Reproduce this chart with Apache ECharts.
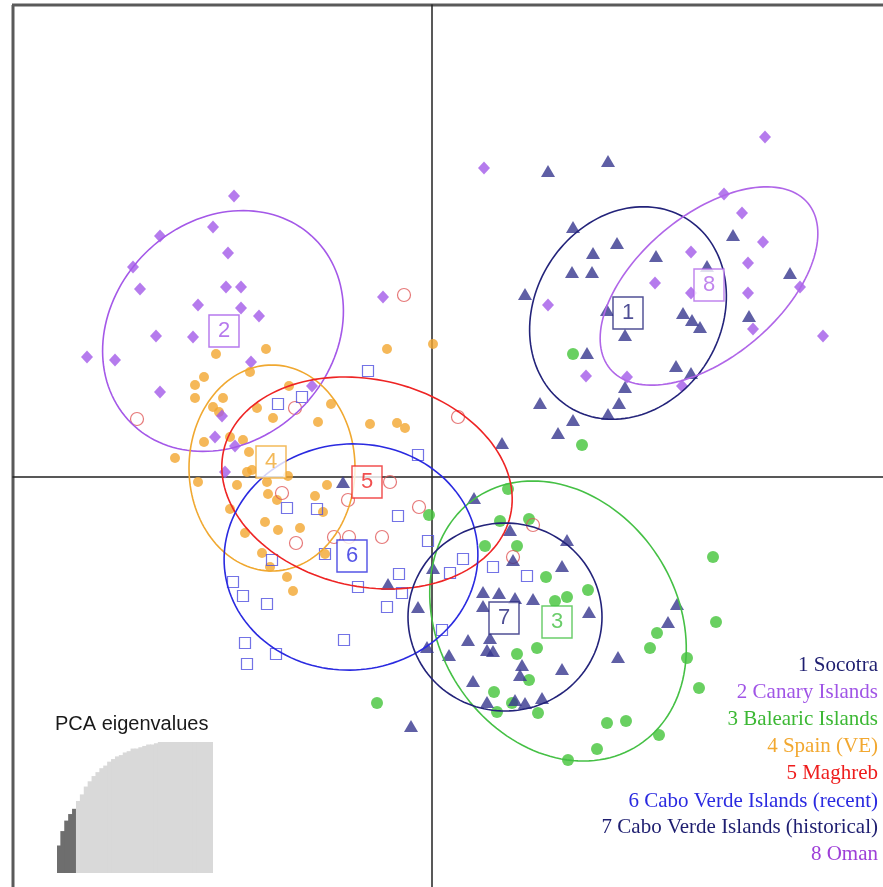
<!DOCTYPE html>
<html><head><meta charset="utf-8">
<script src="https://cdn.jsdelivr.net/npm/echarts@6/dist/echarts.min.js"></script>
<style>html,body{margin:0;padding:0;background:#fff;overflow:hidden}#c{width:883px;height:887px}</style>
</head><body><div id="c"></div><script>
// ---- data (PC1, PC2) ----
const socotra = [[1.16,3.06],[1.76,3.16],[1.41,2.50],[1.85,2.34],[1.61,2.24],[2.24,2.21],[1.40,2.05],[1.60,2.05],[2.75,2.11],[3.01,2.42],[0.93,1.83],[1.75,1.67],[1.93,1.42],[2.51,1.64],[2.60,1.57],[2.68,1.50],[3.17,1.61],[3.58,2.04],[1.55,1.24],[2.44,1.11],[2.59,1.04],[1.93,0.90],[1.08,0.74],[1.87,0.74],[1.76,0.63],[1.41,0.57],[1.26,0.44],[0.70,0.34]];
const canary = [[-1.98,2.81],[-2.19,2.50],[-2.72,2.41],[-2.04,2.24],[-2.99,2.10],[-2.92,1.88],[-2.06,1.90],[-1.91,1.90],[-2.34,1.72],[-1.91,1.69],[-1.73,1.61],[-2.76,1.41],[-2.39,1.40],[-3.45,1.20],[-3.17,1.17],[-1.81,1.15],[-2.72,0.85],[-0.49,1.80],[-1.20,0.91],[-2.10,0.61],[-2.17,0.40],[-1.97,0.31],[-2.07,0.05]];
const balearic = [[1.41,1.23],[1.50,0.32],[0.76,-0.12],[-0.03,-0.38],[0.68,-0.44],[0.97,-0.42],[0.53,-0.69],[0.85,-0.69],[1.14,-1.00],[1.56,-1.13],[1.35,-1.20],[1.23,-1.24],[2.81,-0.80],[2.84,-1.45],[2.25,-1.56],[2.18,-1.71],[1.05,-1.71],[0.85,-1.77],[2.55,-1.81],[0.97,-2.03],[0.62,-2.15],[2.67,-2.11],[0.80,-2.26],[0.65,-2.35],[1.06,-2.36],[1.75,-2.46],[1.94,-2.44],[2.27,-2.58],[1.65,-2.72],[1.36,-2.83],[-0.55,-2.26]];
const spain = [[-1.66,1.28],[-2.16,1.23],[-0.45,1.28],[0.01,1.33],[-1.82,1.05],[-2.28,1.00],[-2.37,0.92],[-1.43,0.91],[-2.37,0.79],[-2.09,0.79],[-2.19,0.70],[-2.13,0.65],[-1.75,0.69],[-1.59,0.59],[-1.01,0.73],[-1.14,0.55],[-0.62,0.53],[-0.35,0.54],[-0.27,0.49],[-2.28,0.35],[-2.02,0.40],[-1.89,0.37],[-2.57,0.19],[-1.83,0.25],[-1.85,0.05],[-1.80,0.07],[-2.34,-0.05],[-1.95,-0.08],[-1.65,-0.05],[-1.44,0.01],[-1.05,-0.08],[-1.64,-0.17],[-1.55,-0.23],[-1.17,-0.19],[-1.09,-0.35],[-2.02,-0.32],[-1.67,-0.45],[-1.54,-0.53],[-1.32,-0.51],[-1.87,-0.56],[-1.70,-0.76],[-1.62,-0.90],[-1.45,-1.00],[-1.39,-1.14],[-1.07,-0.77]];
const maghreb = [[-0.28,1.82],[-2.95,0.58],[-1.37,0.69],[0.26,0.60],[-1.50,-0.16],[-0.42,-0.05],[-0.84,-0.23],[-0.13,-0.30],[-1.36,-0.66],[-0.98,-0.60],[-0.83,-0.60],[-0.50,-0.60],[1.01,-0.48],[0.81,-0.80]];
const cvRecent = [[-0.64,1.06],[-1.54,0.73],[-1.30,0.80],[-0.14,0.22],[-1.45,-0.31],[-1.15,-0.32],[-0.34,-0.39],[-0.04,-0.64],[-1.07,-0.77],[-1.60,-0.83],[-1.99,-1.05],[-1.89,-1.19],[-1.65,-1.27],[-0.74,-1.10],[-0.33,-0.97],[-0.30,-1.16],[-0.45,-1.30],[0.18,-0.96],[0.31,-0.82],[0.61,-0.90],[0.95,-0.99],[0.10,-1.53],[-0.88,-1.63],[-1.87,-1.66],[-1.56,-1.77],[-1.85,-1.87]];
const cvHist = [[-0.89,-0.05],[0.42,-0.21],[0.78,-0.53],[1.35,-0.63],[0.81,-0.83],[1.30,-0.89],[0.01,-0.91],[-0.44,-1.07],[0.51,-1.15],[0.67,-1.16],[0.83,-1.21],[1.01,-1.22],[-0.14,-1.30],[0.51,-1.29],[1.57,-1.35],[2.45,-1.27],[2.36,-1.45],[0.36,-1.63],[0.58,-1.61],[0.55,-1.73],[0.61,-1.74],[-0.05,-1.70],[0.17,-1.78],[1.86,-1.80],[0.90,-1.88],[0.88,-1.98],[1.30,-1.92],[0.41,-2.04],[0.55,-2.25],[0.83,-2.23],[0.93,-2.26],[1.10,-2.21],[-0.21,-2.49]];
const oman = [[0.52,3.09],[3.33,3.40],[2.92,2.83],[3.10,2.64],[3.31,2.35],[2.59,2.25],[3.16,2.14],[2.23,1.94],[2.59,1.84],[3.16,1.84],[3.68,1.90],[1.16,1.72],[3.21,1.48],[3.91,1.41],[1.54,1.01],[1.95,1.00],[2.50,0.91]];
const groupNames = ['1 Socotra','2 Canary Islands','3 Balearic Islands','4 Spain (VE)','5 Maghreb','6 Cabo Verde Islands (recent)','7 Cabo Verde Islands (historical)','8 Oman'];
const groupCodes = ['1','2','3','4','5','6','7','8'];
// group centroids (label positions)
const centroids = [[1.96,1.64],[-2.08,1.46],[1.25,-1.45],[-1.61,0.15],[-0.65,-0.05],[-0.80,-0.79],[0.72,-1.41],[2.77,1.92]];
// inertia ellipses: centre x, centre y, semi-axis a, semi-axis b, angle of a (deg)
const ellCx = [1.96,-2.09,1.26,-1.60,-0.65,-0.81,0.73,2.77];
const ellCy = [1.64,1.46,-1.44,0.09,-0.06,-0.80,-1.40,1.91];
const ellA = [1.11,1.30,1.48,1.03,1.47,1.27,0.97,1.29];
const ellB = [0.93,1.10,1.19,0.83,1.035,1.13,0.94,0.71];
const ellAngle = [58,45,-57,90,-12.7,5,0,40];
// eigenvalue inset (relative heights, %)
const eigen = [21,32,40,45,49,55,60,66,70,74,77,80,82,85,87,89,90,92,93,95,95,96,97,98,98,99,100,100,100,100,100,100,100,100,100,100,100,100,100,100];
const eigenKept = 5;

// ---- styles ----
const ellColors = ['#23237a','#a458e8','#45c045','#f0a830','#ee2424','#2a2ae0','#23237a','#b066e8'];
const textColors = ['#1e1e70','#a055e6','#3cb834','#f2a830','#ee1c1c','#2a2ae0','#1e1e70','#9e3fd8'];

const chart = echarts.init(document.getElementById('c'), null, {renderer:'canvas'});
function pts(arr, name, symbol, size, style, z){
  return {type:'scatter', name, data: arr, symbol, symbolSize:size, itemStyle: style, z: z||2, silent:true, xAxisIndex:0, yAxisIndex:0};
}
const series = [
  pts(spain,'4','circle',10,{color:'#f2a630'}),
  pts(canary,'2','diamond',[12,13],{color:'#a25ae8'}),
  pts(oman,'8','diamond',[12,13],{color:'#a25ae8'}),
  pts(balearic,'3','circle',12,{color:'#43c43a'}),
  pts(maghreb,'5','circle',13,{color:'rgba(255,255,255,0)',borderColor:'#e05858',borderWidth:1.2}),
  pts(cvRecent,'6','rect',11,{color:'rgba(255,255,255,0)',borderColor:'#5050e0',borderWidth:1.2}),
  pts(socotra,'1','triangle',[14,12],{color:'#37378f'}),
  pts(cvHist,'7','triangle',[14,12],{color:'#37378f'}),
  {type:'custom', xAxisIndex:0, yAxisIndex:0, silent:true, z:3, clip:true,
   data: ellCx.map((c,i)=>[c, ellCy[i], ellA[i], ellB[i], ellAngle[i]]),
   encode:{x:0,y:1},
   renderItem:function(params, api){
     const i = params.dataIndex;
     const cx=ellCx[i], cy=ellCy[i], a=ellA[i], b=ellB[i], th=ellAngle[i]*Math.PI/180;
     const p=[];
     for(let k=0;k<=144;k++){
       const t=k/144*2*Math.PI;
       p.push(api.coord([cx + a*Math.cos(th)*Math.cos(t) - b*Math.sin(th)*Math.sin(t),
                         cy + a*Math.sin(th)*Math.cos(t) + b*Math.cos(th)*Math.sin(t)]));
     }
     return {type:'polyline', shape:{points:p}, style:{fill:null, stroke:ellColors[i], lineWidth:1.6}};
   }},
  {type:'scatter', xAxisIndex:0, yAxisIndex:0, silent:true, z:5, symbol:'rect', symbolSize:[30,32],
   data: centroids.map((c,i)=>({value:c, itemStyle:{color:'#fff', borderColor:ellColors[i], borderWidth:1.5},
     label:{show:true, position:'inside', formatter:groupCodes[i], color:ellColors[i], fontSize:22, fontFamily:'Liberation Sans'}}))
  },
  {type:'bar', xAxisIndex:1, yAxisIndex:1, silent:true, barWidth:5, barGap:'-100%',
   data: eigen.map((v,i)=>({value:v, itemStyle:{color: i<eigenKept ? '#6e6e6e' : '#d9d9d9'}}))}
];
const graphics = [
  {type:'line', silent:true, shape:{x1:13, y1:5, x2:13, y2:890}, style:{stroke:'#5a5a5a', lineWidth:3}},
  {type:'line', silent:true, shape:{x1:12, y1:5, x2:886, y2:5}, style:{stroke:'#5a5a5a', lineWidth:3}},
  {type:'text', left:55, top:714, style:{text:'PCA eigenvalues', font:'20px "Liberation Sans"', fill:'#1a1a1a'}}
];
const legendY = [665,692,719,746,773,801,827,854];
groupNames.forEach((n,i)=>{
  graphics.push({type:'text', x:878, y:legendY[i], style:{text:n, textAlign:'right', textVerticalAlign:'middle', font:'21px "Liberation Serif"', fill:textColors[i]}});
});
const hidden = {axisTick:{show:false}, axisLabel:{show:false}, splitLine:{show:false}};
chart.setOption({
  animation:false,
  backgroundColor:'#fff',
  grid:[
    {left:13, top:5, right:0, bottom:0, show:false, outerBoundsMode:'none'},
    {left:57, top:742, width:156, height:131}
  ],
  xAxis:[
    Object.assign({type:'value', gridIndex:0, min:-4.19, max:4.51, axisLine:{show:true, onZero:true, lineStyle:{color:'#222', width:1.5}}}, hidden),
    Object.assign({type:'category', gridIndex:1, data:eigen.map((v,i)=>String(i+1)), axisLine:{show:false}}, hidden)
  ],
  yAxis:[
    Object.assign({type:'value', gridIndex:0, min:-4.10, max:4.72, axisLine:{show:true, onZero:true, lineStyle:{color:'#222', width:1.5}}}, hidden),
    Object.assign({type:'value', gridIndex:1, min:0, max:100, axisLine:{show:false}}, hidden)
  ],
  series: series,
  graphic: graphics
});
</script></body></html>
